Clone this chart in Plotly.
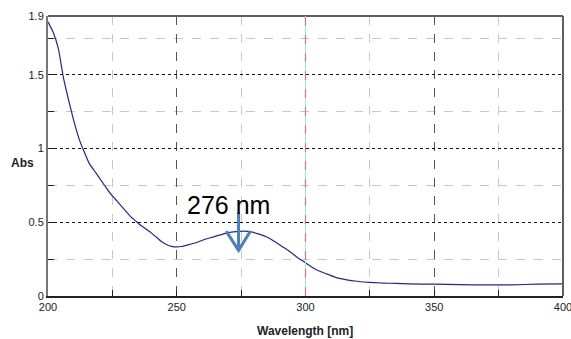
import plotly.graph_objects as go

wavelength = [200, 202, 204, 206, 208, 210, 212, 214, 216, 218, 220, 222, 224, 226, 228, 230,
              232, 234, 236, 238, 240, 242, 244, 246, 248, 250, 252, 255, 258, 261, 264, 267,
              270, 273, 276, 279, 282, 285, 288, 291, 294, 297, 300, 303, 306, 309, 312, 316,
              320, 325, 330, 335, 340, 350, 360, 370, 380, 390, 400]
absorbance = [1.86, 1.79, 1.68, 1.48, 1.33, 1.19, 1.07, 0.98, 0.90, 0.85, 0.80, 0.75, 0.70, 0.66, 0.62, 0.58,
              0.54, 0.51, 0.48, 0.455, 0.43, 0.40, 0.37, 0.35, 0.337, 0.333, 0.336, 0.35, 0.365, 0.385, 0.40, 0.415,
              0.43, 0.437, 0.44, 0.435, 0.42, 0.40, 0.37, 0.335, 0.30, 0.26, 0.225, 0.19, 0.165, 0.145, 0.125, 0.11,
              0.10, 0.092, 0.088, 0.085, 0.082, 0.080, 0.077, 0.075, 0.076, 0.080, 0.082]

x_ticks = [200, 250, 300, 350, 400]
x_minor = [225, 275, 325, 375]
y_ticks = [0, 0.5, 1, 1.5, 1.9]
y_tick_text = ["0", "0.5", "1", "1.5", "1.9"]
y_minor = [0.25, 0.75, 1.25, 1.75]

peak_label = "276 nm"
peak_x = 274

tick_font = dict(family="Liberation Sans Narrow, Liberation Sans, Arial", size=11, color="#222222")

fig = go.Figure()
fig.add_trace(go.Scatter(x=wavelength, y=absorbance, mode="lines",
                         line=dict(color="#2323a8", width=1.2, shape="spline", smoothing=0.5),
                         hoverinfo="skip", showlegend=False))

fig.update_layout(
    width=571, height=339,
    margin=dict(l=48, r=8, t=16, b=43),
    paper_bgcolor="white", plot_bgcolor="white",
    xaxis=dict(range=[200, 400], tickvals=x_ticks, ticktext=[str(v) for v in x_ticks],
               tickfont=tick_font, ticks="inside", ticklen=6, tickcolor="#222222",
               ticklabeloverflow="allow", automargin=False,
               showgrid=True, gridcolor="#555555", griddash="dash", gridwidth=1,
               showline=True, linecolor="#222222", linewidth=2, mirror=False,
               zeroline=False,
               minor=dict(tickvals=x_minor, ticks="inside", ticklen=6, tickcolor="#222222",
                          showgrid=True, gridcolor="#c8c8c8", griddash="dash", gridwidth=1)),
    yaxis=dict(range=[0, 1.9], tickvals=y_ticks, ticktext=y_tick_text,
               tickfont=tick_font, ticks="inside", ticklen=6, tickcolor="#222222",
               ticklabeloverflow="allow", automargin=False,
               showgrid=True, gridcolor="#111111", griddash="dot", gridwidth=1,
               showline=True, linecolor="#777777", linewidth=2, mirror=False,
               zeroline=False,
               minor=dict(tickvals=y_minor, ticks="inside", ticklen=6, tickcolor="#222222",
                          showgrid=True, gridcolor="#c8c8c8", griddash="dash", gridwidth=1)),
)

# frame: top and right borders
fig.add_shape(type="line", xref="paper", yref="paper", x0=0, x1=1, y0=1, y1=1,
              line=dict(color="#606060", width=2))
fig.add_shape(type="line", xref="paper", yref="paper", x0=1, x1=1, y0=0, y1=1,
              line=dict(color="#606060", width=2))

# cursor line at 300 nm
fig.add_shape(type="line", xref="x", yref="paper", x0=300, x1=300, y0=0, y1=1,
              line=dict(color="#8af0f4", width=1))
fig.add_shape(type="line", xref="x", yref="paper", x0=300, x1=300, y0=0, y1=1,
              line=dict(color="#f07070", width=1.2, dash="dash"))

# peak arrow (open V head)
fig.add_shape(type="path", xref="x", yref="y",
              path=f"M {peak_x},0.565 L {peak_x},0.31 M {peak_x-4.8},0.44 L {peak_x},0.31 L {peak_x+4.6},0.44",
              line=dict(color="#4a7fc0", width=3))

fig.add_annotation(x=peak_x - 4, y=0.62, xref="x", yref="y", text=peak_label, showarrow=False,
                   font=dict(family="Liberation Sans, Arial", size=25, color="black"),
                   xanchor="center", yanchor="middle")

fig.add_annotation(x=(22 - 48) / 515, y=(296 - 163) / 280, xref="paper", yref="paper",
                   text="<b>Abs</b>", showarrow=False, xanchor="center", yanchor="middle",
                   font=dict(family="Liberation Sans Narrow, Liberation Sans, Arial", size=12, color="#222222"))

fig.add_annotation(x=(305 - 48) / 515, y=(296 - 331) / 280, xref="paper", yref="paper",
                   text="<b>Wavelength [nm]</b>", showarrow=False,
                   font=dict(family="Liberation Sans Narrow, Liberation Sans, Arial", size=12, color="#222222"),
                   xanchor="center", yanchor="middle")

fig.write_html("out.html")
